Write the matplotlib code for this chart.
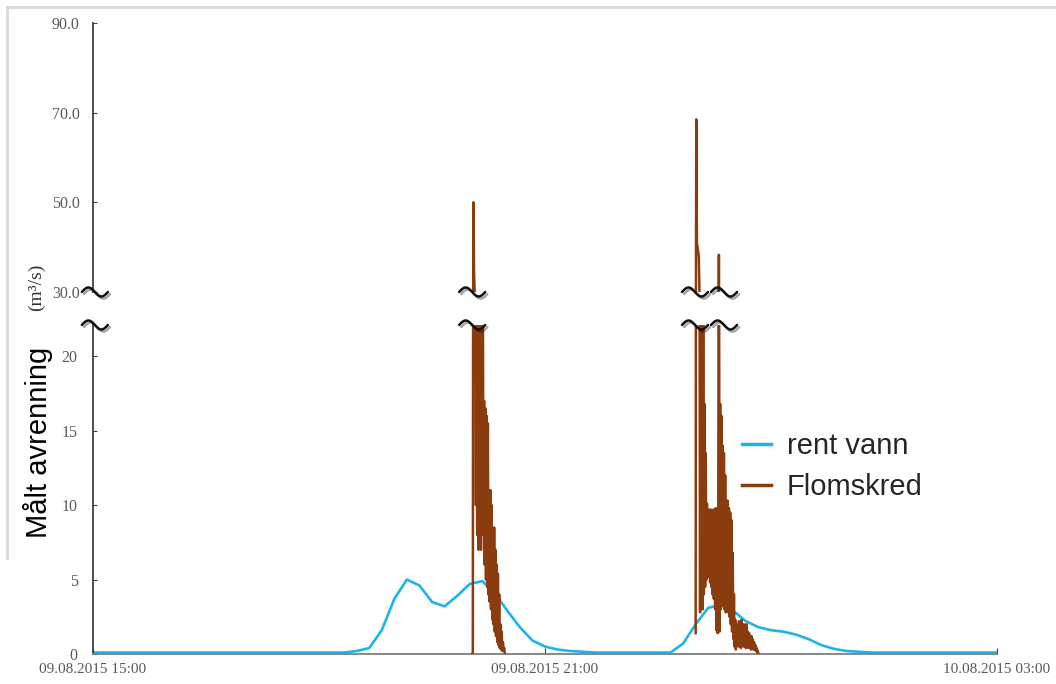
import numpy as np
import matplotlib
matplotlib.use("Agg")
import matplotlib.pyplot as plt
import matplotlib.patheffects as pe
from matplotlib.lines import Line2D
from matplotlib.transforms import blended_transform_factory

# Time is given in minutes after 09.08.2015 15:00
rent_vann_step = 10
rent_vann = [
    0.1, 0.1, 0.1, 0.1, 0.1, 0.1, 0.1, 0.1, 0.1, 0.1,
    0.1, 0.1, 0.1, 0.1, 0.1, 0.1, 0.1, 0.1, 0.1, 0.1,
    0.1, 0.2, 0.4, 1.6, 3.7, 5.0, 4.6, 3.5, 3.2, 3.9,
    4.7, 4.9, 4.1, 2.9, 1.8, 0.9, 0.5, 0.3, 0.2, 0.15,
    0.1, 0.1, 0.1, 0.1, 0.1, 0.1, 0.1, 0.7, 2.0, 3.1,
    3.3, 2.9, 2.2, 1.8, 1.6, 1.5, 1.3, 1.0, 0.6, 0.35,
    0.2, 0.15, 0.1, 0.1, 0.1, 0.1, 0.1, 0.1, 0.1, 0.1,
    0.1, 0.1, 0.1,
]

# debris flow, two events sampled every half minute
flom_step = 0.5
flom1_start = 302
flom1 = [
    0.0, 0.0, 50.0, 34.0, 30.0, 24.0, 10.0, 27.0, 8.0, 25.0,
    7.0, 26.0, 9.0, 24.0, 7.0, 23.0, 12.0, 25.0, 8.0, 17.0,
    6.0, 16.5, 5.0, 16.0, 4.5, 15.5, 4.0, 11.0, 3.5, 11.0,
    3.0, 10.0, 2.3, 8.0, 2.0, 8.5, 1.5, 7.0, 1.2, 6.0,
    0.8, 5.4, 0.6, 4.0, 0.4, 2.0, 0.3, 1.5, 0.2, 0.8,
    0.3, 0.4, 0.0,
]
flom2_start = 480
flom2 = [
    1.4, 68.5, 41.0, 40.0, 39.0, 38.0, 30.0, 2.8, 27.0, 3.5,
    26.0, 3.0, 24.0, 4.0, 16.8, 4.5, 13.5, 5.0, 10.1, 5.5,
    9.5, 5.2, 9.7, 4.8, 9.7, 4.5, 9.5, 4.0, 9.7, 3.7,
    9.6, 3.0, 9.8, 1.6, 9.5, 1.4, 9.0, 38.3, 1.5, 16.8,
    3.0, 16.0, 3.5, 14.0, 3.2, 13.5, 3.0, 12.0, 2.8, 10.3,
    3.0, 10.3, 2.8, 9.8, 2.5, 9.5, 2.0, 9.0, 1.5, 6.8,
    1.0, 4.0, 0.5, 2.3, 0.3, 2.0, 0.8, 1.8, 0.5, 2.2,
    0.6, 1.8, 0.4, 2.3, 0.6, 1.9, 0.5, 2.0, 0.7, 1.7,
    0.4, 2.0, 0.6, 1.5, 0.4, 1.4, 0.6, 1.2, 0.3, 1.2,
    0.5, 1.0, 0.3, 0.8, 0.3, 0.6, 0.2, 0.4, 0.1, 0.2,
    0.0,
]

x_ticks = [0, 360, 720]
x_labels = ["09.08.2015 15:00", "09.08.2015 21:00", "10.08.2015 03:00"]
upper_ticks = [30, 50, 70, 90]
lower_ticks = [0, 5, 10, 15, 20]
break_x = [302, 479.5, 502.6]

BLUE = "#1db4ea"
BROWN = "#8b3c0e"
SERIF = "Liberation Serif"
SANS = "Liberation Sans"
GREY = "#595959"


def tilde(fig, ax, x, yfrac):
    """Draw a small ~ break mark centred on (x data, yfrac axes)."""
    tr = blended_transform_factory(ax.transData, ax.transAxes)
    cx, cy = tr.transform((x, yfrac))
    dx = np.linspace(-13, 13, 60)
    dy = -4.5 * np.sin(2 * np.pi * dx / 26)
    pts = fig.transFigure.inverted().transform(np.column_stack([cx + dx, cy + dy]))
    line = Line2D(pts[:, 0], pts[:, 1], transform=fig.transFigure, color="#111111",
                  lw=1.8, solid_capstyle="round", zorder=10)
    line.set_path_effects([pe.SimpleLineShadow(offset=(1.5, -1.5), alpha=0.35),
                           pe.Normal()])
    fig.add_artist(line)


def main():
    fig = plt.figure(figsize=(10.56, 6.84), dpi=100)
    W, H = 1056, 684
    left, right = 93 / W, 997 / W
    ax_top = fig.add_axes([left, 1 - 292 / H, right - left, (292 - 23) / H])
    ax_bot = fig.add_axes([left, 1 - 654 / H, right - left, (654 - 325) / H])

    t_blue = np.arange(len(rent_vann)) * rent_vann_step
    t1 = flom1_start + flom_step * np.arange(len(flom1))
    t2 = flom2_start + flom_step * np.arange(len(flom2))

    for ax in (ax_top, ax_bot):
        ax.plot(t_blue, rent_vann, color=BLUE, lw=1.9, zorder=2)
        ax.plot(t1, flom1, color=BROWN, lw=1.8, zorder=3)
        ax.plot(t2, flom2, color=BROWN, lw=1.8, zorder=3)
        ax.set_xlim(0, 720)
        for s in ("top", "right"):
            ax.spines[s].set_visible(False)
        ax.spines["left"].set_color("#404040")
        ax.spines["left"].set_linewidth(1.3)

    ax_top.set_ylim(30, 90)
    ax_top.spines["bottom"].set_visible(False)
    ax_top.set_xticks([])
    ax_top.set_yticks(upper_ticks)
    ax_top.set_yticklabels([f"{v:.1f}" for v in upper_ticks])
    ax_top.tick_params(axis="y", direction="in", length=3, pad=9.5,
                       labelsize=11.5, labelcolor=GREY, color="#404040")

    ax_bot.set_ylim(0, 22.1)
    ax_bot.set_yticks(lower_ticks)
    ax_bot.set_xticks(x_ticks)
    ax_bot.set_xticklabels(x_labels)
    ax_bot.spines["bottom"].set_color("#7f7f7f")
    ax_bot.spines["bottom"].set_linewidth(1.3)
    ax_bot.tick_params(axis="y", direction="in", length=3, pad=11,
                       labelsize=11.5, labelcolor=GREY, color="#404040")
    ax_bot.tick_params(axis="x", direction="in", length=4, pad=6.5,
                       labelsize=11, labelcolor=GREY, color="#404040")
    for lab in ax_top.get_yticklabels() + ax_bot.get_yticklabels() + ax_bot.get_xticklabels():
        lab.set_family(SERIF)

    handles = [Line2D([], [], color=BLUE, lw=2.5), Line2D([], [], color=BROWN, lw=2.5)]
    leg = fig.legend(handles, ["rent vann", "Flomskred"], loc="center left",
                     bbox_to_anchor=(727 / W, 1 - 466.5 / H), frameon=False,
                     prop={"family": SANS, "size": 21}, handlelength=1.0,
                     handletextpad=0.55, labelspacing=0.45, borderpad=0)
    for txt in leg.get_texts():
        txt.set_color("#262626")

    fig.text(38 / W, 1 - 442 / H, "Målt avrenning", rotation=90, ha="center",
             va="center", fontsize=21, family=SANS, color="black")
    fig.text(36 / W, 1 - 287 / H, "(m³/s)", rotation=90, ha="center",
             va="center", fontsize=14, family=SERIF, color="#333333")

    # break marks on the axis and on the spikes
    tilde(fig, ax_top, 1.5, 0)
    tilde(fig, ax_bot, 1.5, 1)
    for x in break_x:
        tilde(fig, ax_top, x, 0)
        tilde(fig, ax_bot, x, 1)

    # light frame round the picture
    fig.add_artist(Line2D([7 / W, 1], [1 - 7 / H, 1 - 7 / H], transform=fig.transFigure,
                          color="#d9d9d9", lw=2))
    fig.add_artist(Line2D([7 / W, 7 / W], [1 - 7 / H, 1 - 558 / H], transform=fig.transFigure,
                          color="#d9d9d9", lw=2))

    fig.savefig("out.png", dpi=100)


if __name__ == "__main__":
    main()
